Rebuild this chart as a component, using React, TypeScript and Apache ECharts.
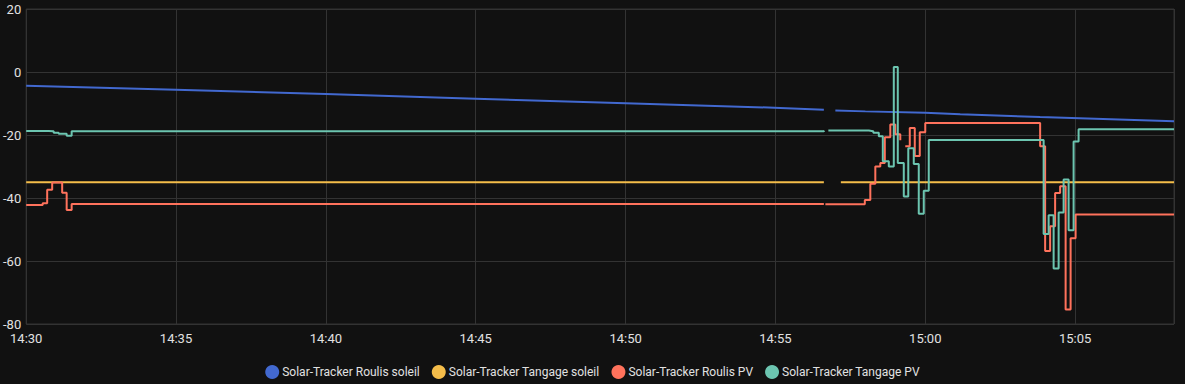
import React, { useEffect, useRef } from "react";
import * as echarts from "echarts";

const DAY = "2024-01-01";
const X_MIN = "14:30:00";
const X_MAX = "15:08:18";
const Y_TICKS = [-80, -60, -40, -20, 0, 20];

const SERIES_NAMES = [
  "Solar-Tracker Roulis soleil",
  "Solar-Tracker Tangage soleil",
  "Solar-Tracker Roulis PV",
  "Solar-Tracker Tangage PV",
];
const COLORS = ["#4269d0", "#f4bd4a", "#ff725c", "#6cc5b0"];

const rollSunTimes = ["14:30:00", "14:35:00", "14:40:00", "14:45:00", "14:50:00", "14:55:10", "14:56:37", "14:56:38", "14:57:00", "14:58:00", "15:00:00", "15:01:10", "15:03:50", "15:08:18"];
const rollSunValues = [-4.4, -5.6, -7.0, -8.5, -9.9, -11.4, -12.0, null, -12.2, -12.5, -12.9, -13.4, -14.3, -15.6];

const pitchSunTimes = ["14:30:00", "14:45:00", "14:56:37", "14:56:38", "14:57:11", "15:05:00", "15:08:18"];
const pitchSunValues = [-35.0, -35.0, -35.0, null, -35.0, -35.0, -35.0];

const rollPvTimes = ["14:30:00", "14:30:33", "14:30:42", "14:30:52", "14:31:12", "14:31:21", "14:31:31", "14:56:37", "14:56:38", "14:56:40", "14:57:59", "14:58:10", "14:58:20", "14:58:30", "14:58:39", "14:58:50", "14:59:00", "14:59:10", "14:59:11", "14:59:20", "14:59:29", "14:59:39", "14:59:49", "15:00:00", "15:03:50", "15:04:00", "15:04:10", "15:04:20", "15:04:30", "15:04:41", "15:04:51", "15:05:01", "15:08:18"];
const rollPvValues = [-42.2, -41.7, -37.4, -35.1, -38.3, -43.8, -41.9, -42.0, null, -42.0, -40.6, -35.5, -30.0, -28.9, -20.7, -16.7, -19.8, -21.7, null, -23.6, -17.8, -26.7, -19.1, -16.2, -23.6, -56.8, -49.0, -38.4, -36.3, -75.4, -52.8, -45.2, -45.2];

const pitchPvTimes = ["14:30:00", "14:30:45", "14:30:55", "14:31:05", "14:31:21", "14:31:31", "14:56:37", "14:56:38", "14:56:46", "14:58:07", "14:58:16", "14:58:27", "14:58:35", "14:58:47", "14:58:57", "14:59:05", "14:59:17", "14:59:26", "14:59:37", "14:59:47", "14:59:57", "15:00:07", "15:03:57", "15:04:07", "15:04:17", "15:04:27", "15:04:37", "15:04:47", "15:04:57", "15:05:07", "15:08:18"];
const pitchPvValues = [-18.7, -18.8, -19.3, -19.6, -20.2, -18.8, -18.6, null, -18.6, -18.8, -19.3, -20.4, -28.3, -30.0, 1.6, -28.9, -39.5, -24.2, -29.2, -45.0, -37.7, -21.6, -51.4, -45.5, -62.4, -44.6, -34.1, -50.2, -22.1, -18.2, -18.1];

const toMs = (t: string) => Date.parse(`${DAY}T${t}Z`);
const pair = (ts: string[], vs: (number | null)[]) => ts.map((t, i) => [toMs(t), vs[i]]);

const pad = (n: number) => (n < 10 ? "0" + n : "" + n);
const fmt = (v: number) => {
  const d = new Date(v);
  return pad(d.getUTCHours()) + ":" + pad(d.getUTCMinutes());
};

export default function App() {
  const ref = useRef<HTMLDivElement>(null);
  useEffect(() => {
    document.body.style.margin = "0";
    document.body.style.background = "#111111";
    const chart = echarts.init(ref.current!, null, { renderer: "svg" });
    const datasets = [
      { d: pair(rollSunTimes, rollSunValues), step: false },
      { d: pair(pitchSunTimes, pitchSunValues), step: false },
      { d: pair(rollPvTimes, rollPvValues), step: "end" },
      { d: pair(pitchPvTimes, pitchPvValues), step: "end" },
    ];
    chart.setOption({
      animation: false,
      backgroundColor: "#111111",
      color: COLORS,
      textStyle: { fontFamily: "Roboto, 'Noto Sans', sans-serif" },
      grid: {
        left: 25,
        right: 11,
        top: 9,
        bottom: 60,
        show: true,
        borderColor: "#333333",
        borderWidth: 1,
      },
      legend: {
        left: "center",
        top: 360,
        icon: "circle",
        itemWidth: 14,
        itemHeight: 14,
        itemGap: 12,
        data: SERIES_NAMES,
        textStyle: {
          color: "#e1e1e1",
          fontSize: 12,
          fontFamily: "Roboto, sans-serif",
          padding: [0, 0, 0, -2],
        },
      },
      xAxis: {
        type: "value",
        min: toMs(X_MIN),
        max: toMs(X_MAX),
        interval: 5 * 60 * 1000,
        axisLine: { show: false },
        axisTick: { show: false },
        splitLine: { show: true, lineStyle: { color: "#333333", width: 1 } },
        axisLabel: {
          formatter: (v: number) => fmt(v),
          color: "#e1e1e1",
          fontSize: 13,
          margin: 8,
          showMaxLabel: false,
        },
      },
      yAxis: {
        type: "value",
        min: Y_TICKS[0],
        max: Y_TICKS[Y_TICKS.length - 1],
        interval: 20,
        axisLine: { show: false },
        axisTick: { show: false },
        splitLine: { show: true, lineStyle: { color: "#333333", width: 1 } },
        axisLabel: { color: "#e1e1e1", fontSize: 13, margin: 5 },
      },
      series: datasets.map((s, i) => ({
        name: SERIES_NAMES[i],
        type: "line",
        data: s.d,
        step: s.step,
        showSymbol: false,
        connectNulls: false,
        lineStyle: { width: 2, color: COLORS[i] },
        itemStyle: { color: COLORS[i] },
      })),
    });
    return () => chart.dispose();
  }, []);
  return <div ref={ref} style={{ width: 1185, height: 384, background: "#111111" }} />;
}
